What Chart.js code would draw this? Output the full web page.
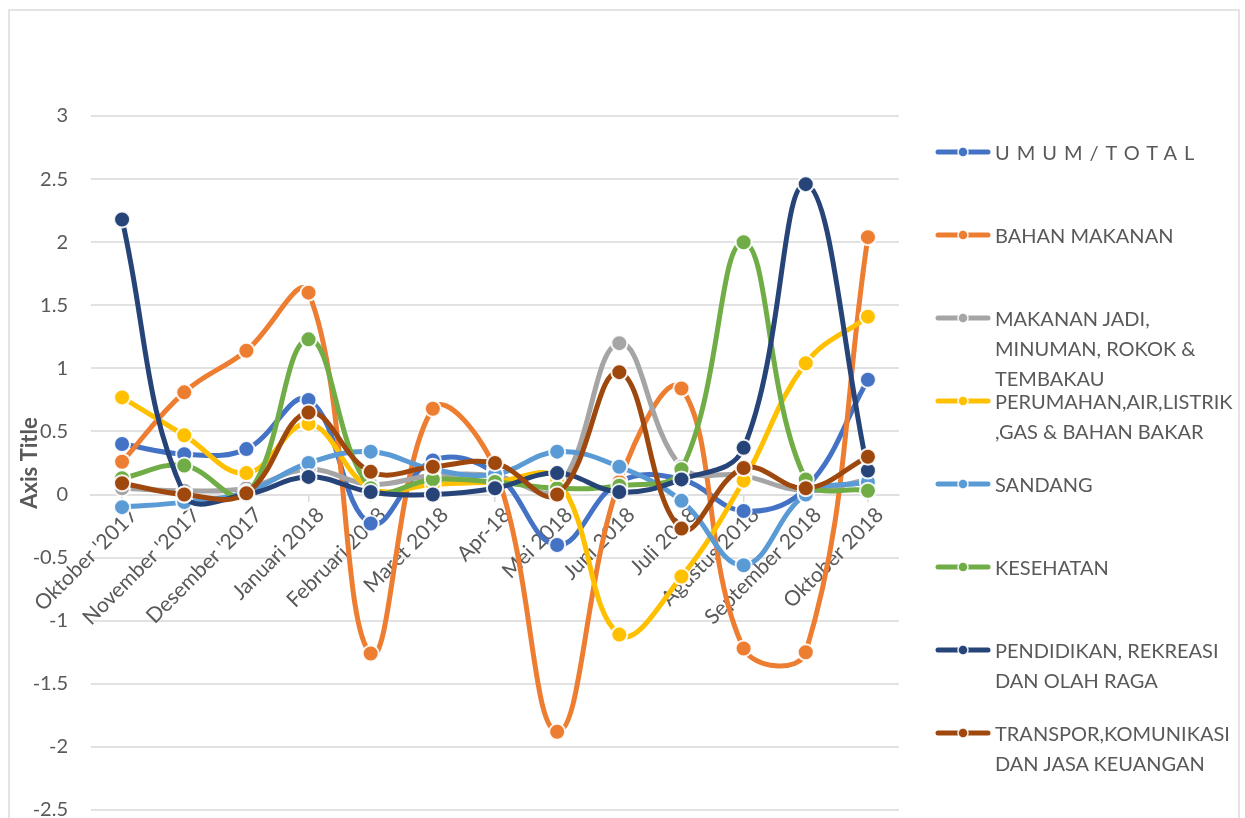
<!DOCTYPE html>
<html><head><meta charset="utf-8">
<script src="https://cdn.jsdelivr.net/npm/chart.js@4/dist/chart.umd.min.js"></script>
<style>
html,body{margin:0;padding:0;background:#fff;}
#wrap{position:relative;width:1245px;height:818px;overflow:hidden;background:#fff;}
#frame{position:absolute;left:8px;top:9px;width:1232px;height:840px;border:2px solid #E3E3E3;box-sizing:border-box;}
#c{position:absolute;left:0;top:0;}
#legend{position:absolute;left:933px;top:137px;font-family:Lato,'Open Sans',sans-serif;font-size:20px;color:#595959;}
.item{height:83px;display:flex;align-items:flex-start;}
.item svg{flex:none;margin-top:0;}
.txt{line-height:30px;white-space:nowrap;margin-left:2px;}
</style>
</head><body>
<div id="wrap">
<div id="frame"></div>
<canvas id="c" width="1245" height="845"></canvas>
<div id="legend"></div>
</div>
<script>
const categories = ["Oktober '2017","November '2017","Desember '2017","Januari 2018","Februari 2018","Maret 2018","Apr-18","Mei 2018","Juni 2018","Juli 2018","Agustus 2018","September 2018","Oktober 2018"];

const umumTotal      = [0.40, 0.32, 0.36, 0.75, -0.23, 0.27, 0.17, -0.40, 0.10, 0.12, -0.13, 0.05, 0.91];
const bahanMakanan   = [0.26, 0.81, 1.14, 1.60, -1.26, 0.68, 0.20, -1.88, 0.10, 0.84, -1.22, -1.25, 2.04];
const makananJadi    = [0.05, 0.03, 0.05, 0.20, 0.08, 0.15, 0.15, 0.05, 1.20, 0.22, 0.15, 0.03, 0.12];
const perumahan      = [0.77, 0.47, 0.17, 0.56, 0.05, 0.08, 0.10, 0.12, -1.11, -0.65, 0.11, 1.04, 1.41];
const sandang        = [-0.10, -0.06, 0.02, 0.25, 0.34, 0.20, 0.16, 0.34, 0.22, -0.05, -0.56, 0.00, 0.10];
const kesehatan      = [0.13, 0.23, 0.00, 1.23, 0.05, 0.12, 0.10, 0.05, 0.07, 0.20, 2.00, 0.12, 0.03];
const pendidikan     = [2.18, 0.00, 0.00, 0.14, 0.02, 0.00, 0.05, 0.17, 0.02, 0.12, 0.37, 2.46, 0.19];
const transpor       = [0.09, 0.00, 0.01, 0.65, 0.18, 0.22, 0.25, 0.00, 0.97, -0.27, 0.21, 0.05, 0.30];

const yTickValues = [3, 2.5, 2, 1.5, 1, 0.5, 0, -0.5, -1, -1.5, -2, -2.5];
const yAxisTitle = "Axis Title";

const seriesLabels = [
  ["UMUM/TOTAL"],
  ["BAHAN MAKANAN"],
  ["MAKANAN JADI,", "MINUMAN, ROKOK &", "TEMBAKAU"],
  ["PERUMAHAN,AIR,LISTRIK", ",GAS & BAHAN BAKAR"],
  ["SANDANG"],
  ["KESEHATAN"],
  ["PENDIDIKAN, REKREASI", "DAN OLAH RAGA"],
  ["TRANSPOR,KOMUNIKASI", "DAN JASA KEUANGAN"]
];
const seriesValues = [umumTotal, bahanMakanan, makananJadi, perumahan, sandang, kesehatan, pendidikan, transpor];
const seriesColors = ["#4472C4", "#ED7D31", "#A5A5A5", "#FFC000", "#5B9BD5", "#70AD47", "#264478", "#9E480E"];

const datasets = seriesValues.map((vals, i) => ({
  label: seriesLabels[i].join(" "),
  data: vals,
  borderColor: seriesColors[i],
  backgroundColor: seriesColors[i],
  borderWidth: 5,
  tension: 0.4,
  pointRadius: 8,
  pointHoverRadius: 8,
  pointBorderWidth: 2,
  pointBorderColor: "rgba(255,255,255,0.9)",
  pointBackgroundColor: seriesColors[i],
  order: -i,
  fill: false
}));

Chart.defaults.font.family = "Lato, 'Open Sans', sans-serif";
Chart.defaults.color = "#595959";

new Chart(document.getElementById("c"), {
  type: "line",
  data: { labels: categories, datasets },
  options: {
    responsive: false,
    animation: false,
    layout: { padding: { left: 0, top: 116, right: 346, bottom: 9 } },
    plugins: { legend: { display: false }, tooltip: { enabled: false } },
    scales: {
      x: {
        type: "category",
        offset: true,
        position: { y: 0 },
        grid: { display: true, drawOnChartArea: false, drawTicks: true, tickLength: 6, color: "#D9D9D9", lineWidth: 1.5 },
        border: { display: true, color: "#E0E0E0", width: 2 },
        ticks: { autoSkip: false, maxRotation: 45, minRotation: 45, padding: 2, labelOffset: 12, font: { size: 21 }, color: "#595959" }
      },
      y: {
        min: -2.5, max: 3,
        afterBuildTicks: s => { s.ticks = yTickValues.map(v => ({ value: v })); },
        afterFit: s => { s.width = 91; },
        grid: { color: "#E2E2E2", lineWidth: 2, drawTicks: false },
        border: { display: false },
        ticks: { padding: 23, font: { size: 20 }, color: "#595959", callback: v => String(v) },
        title: { display: true, text: yAxisTitle, font: { size: 22, weight: "bold" }, color: "#595959", padding: { top: 17, bottom: 0 } }
      }
    }
  }
});

const leg = document.getElementById("legend");
seriesLabels.forEach((lines, i) => {
  const item = document.createElement("div");
  item.className = "item";
  const c = seriesColors[i];
  item.innerHTML = `<svg width="60" height="30"><line x1="5" y1="15" x2="55" y2="15" stroke="${c}" stroke-width="5" stroke-linecap="round"/><circle cx="30" cy="15" r="5" fill="${c}" stroke="rgba(255,255,255,0.9)" stroke-width="1.5"/></svg>`;
  const t = document.createElement("div");
  t.className = "txt";
  if (i === 0) t.style.letterSpacing = "7px";
  t.innerHTML = lines.map(l => l.replace(/&/g, "&amp;")).join("<br>");
  item.appendChild(t);
  leg.appendChild(item);
});
</script>
</body></html>
